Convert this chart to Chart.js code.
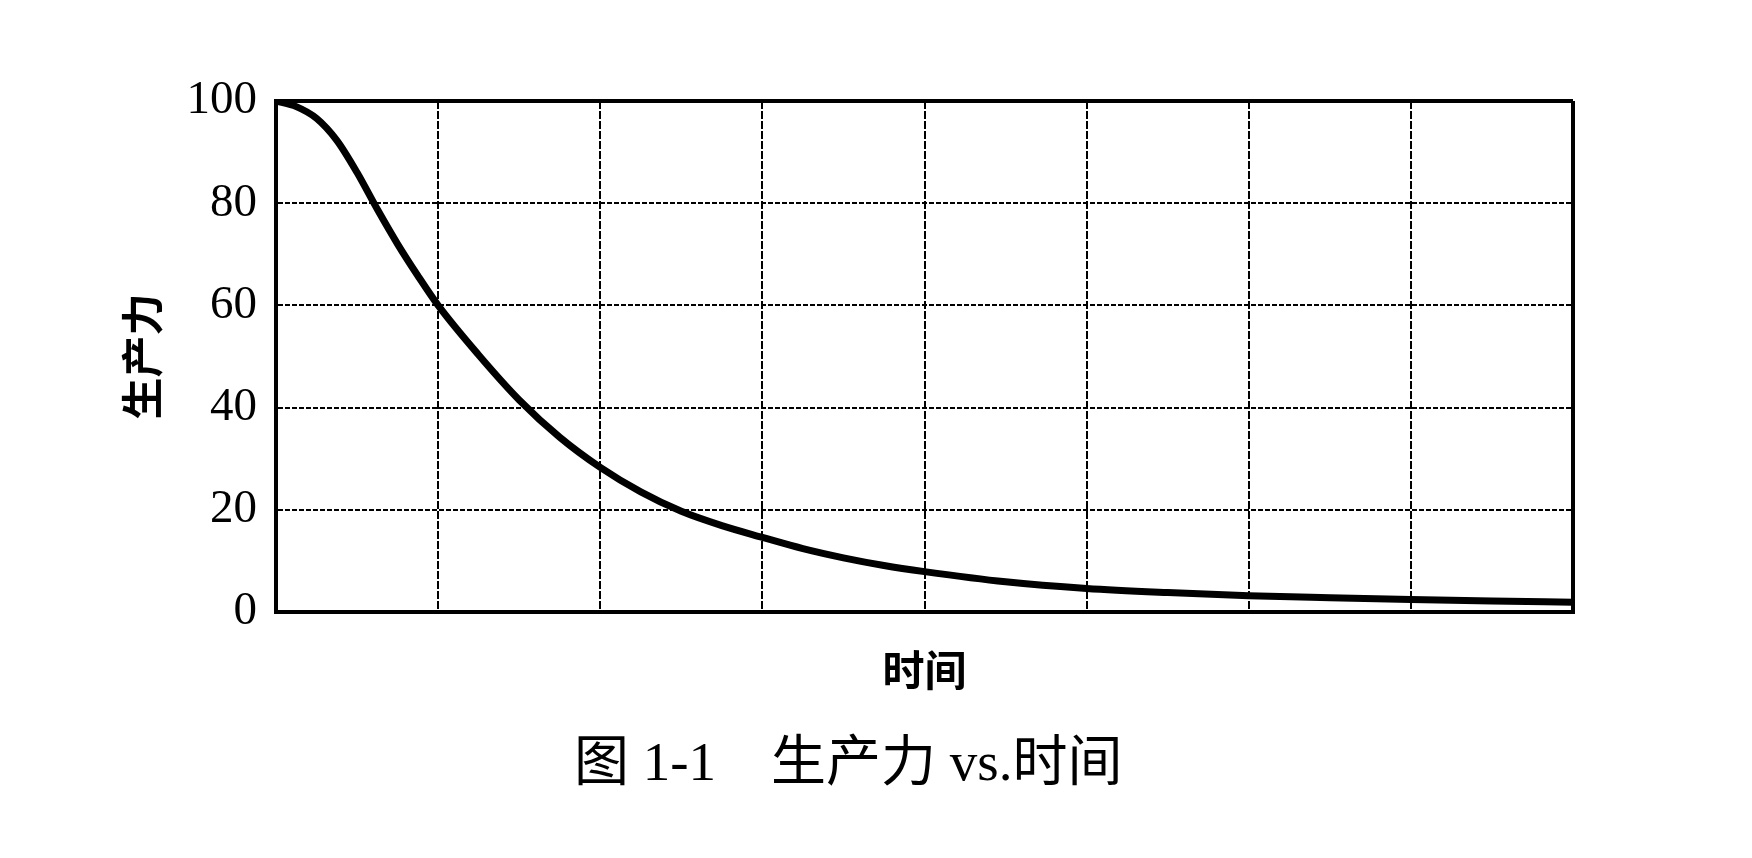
<!DOCTYPE html>
<html>
<head>
<meta charset="utf-8">
<script src="https://cdn.jsdelivr.net/npm/chart.js@4.4.1/dist/chart.umd.min.js"></script>
<style>
  html, body { margin: 0; padding: 0; background: #fff; }
  #wrap { position: relative; width: 1752px; height: 858px; overflow: hidden; }
  #c { position: absolute; left: 0; top: 0; }
  #caption {
    position: absolute; left: 574px; top: 731px; height: 62px; line-height: 62px;
    font-family: "Liberation Serif", "Noto Sans CJK SC", serif; font-size: 55px;
    color: #000; white-space: pre;
  }
</style>
</head>
<body>
<div id="wrap">
  <canvas id="c" width="1752" height="858"></canvas>
  <div id="caption">图 1-1    生产力 vs.时间</div>
</div>
<script>
// ---- data ----
const timeValues = [0, 0.125, 0.25, 0.375, 0.5, 0.625, 0.75, 0.875, 1.0, 1.25, 1.5, 1.75, 2.0, 2.25, 2.5, 2.75, 3.0, 3.25, 3.5, 3.75, 4.0, 4.5, 5.0, 5.5, 6.0, 6.5, 7.0, 7.5, 8.0];
const productivityValues = [100, 98.9, 96.6, 92.3, 86, 78.8, 72, 65.8, 60, 50.3, 41.5, 34.2, 28.3, 23.5, 19.7, 16.9, 14.6, 12.4, 10.6, 9.1, 7.9, 5.9, 4.6, 3.8, 3.2, 2.8, 2.45, 2.15, 1.9];
const yTickValues = [0, 20, 40, 60, 80, 100];
const xTitle = '时间';
const yTitle = '生产力';

const points = timeValues.map((t, i) => ({ x: t, y: productivityValues[i] }));
const xMax = timeValues[timeValues.length - 1];
const yMax = yTickValues[yTickValues.length - 1];

const edgeX = (c) => c.tick && (c.tick.value === 0 || c.tick.value === xMax);
const edgeY = (c) => c.tick && (c.tick.value === 0 || c.tick.value === yMax);

new Chart(document.getElementById('c'), {
  type: 'line',
  data: {
    datasets: [{
      data: points,
      borderColor: '#000',
      borderWidth: 7,
      pointRadius: 0,
      cubicInterpolationMode: 'monotone',
      borderJoinStyle: 'round',
      fill: false
    }]
  },
  options: {
    responsive: false,
    devicePixelRatio: 1,
    animation: false,
    layout: { padding: { left: 0, right: 179, top: 101, bottom: 0 } },
    plugins: { legend: { display: false }, tooltip: { enabled: false } },
    scales: {
      x: {
        type: 'linear',
        min: 0, max: xMax,
        ticks: { display: false, stepSize: 1 },
        grid: {
          color: '#000',
          lineWidth: (c) => edgeX(c) ? 4 : 2,
          drawTicks: false
        },
        border: { display: true, color: '#000', width: 4, dash: (c) => edgeX(c) ? [] : [8, 2] },
        title: {
          display: true, text: xTitle, color: '#000',
          font: { family: '"Noto Sans CJK SC"', size: 42, weight: 'bold', lineHeight: 1.2 },
          padding: { top: 0, bottom: 163 }
        },
        afterFit: (s) => { s.height = 246; }
      },
      y: {
        type: 'linear',
        min: 0, max: yMax,
        afterBuildTicks: (s) => { s.ticks = yTickValues.map(v => ({ value: v })); },
        ticks: {
          color: '#000', padding: 19,
          font: { family: '"Liberation Serif"', size: 47 }
        },
        grid: {
          color: '#000',
          lineWidth: (c) => edgeY(c) ? 4 : 2,
          drawTicks: false
        },
        border: { display: true, color: '#000', width: 4, dash: (c) => edgeY(c) ? [] : [5, 2] },
        title: {
          display: true, text: yTitle, color: '#000',
          font: { family: '"Noto Sans CJK SC"', size: 42, weight: 'bold', lineHeight: 1.2 },
          padding: { top: 117, bottom: 0 }
        },
        afterFit: (s) => { s.width = 276; }
      }
    }
  }
});
</script>
</body>
</html>
